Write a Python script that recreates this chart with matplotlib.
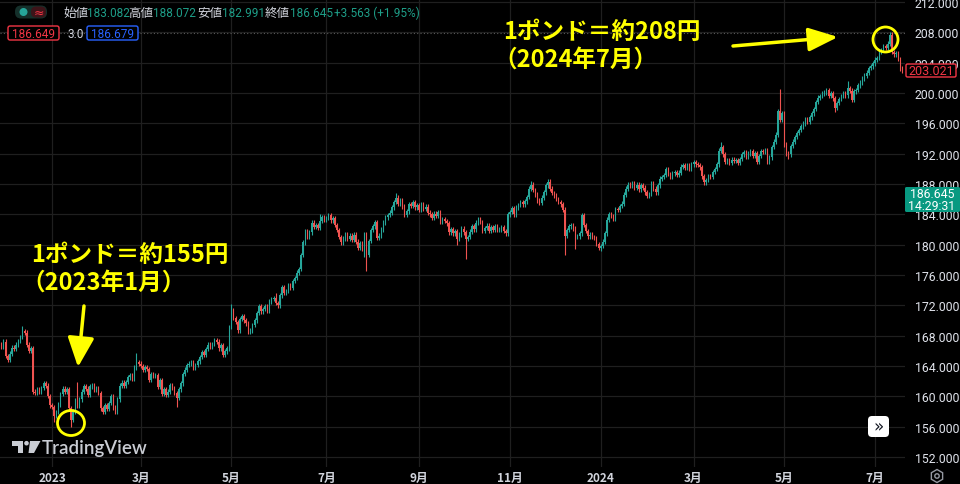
import numpy as np
import pandas as pd
import matplotlib
matplotlib.use("Agg")
import matplotlib.pyplot as plt
from matplotlib.patches import Ellipse, FancyBboxPatch, RegularPolygon, Circle, Polygon

plt.rcParams['font.family'] = ['Noto Sans CJK JP', 'DejaVu Sans']

# ---------------- data (GBP/JPY daily closes) ----------------
close_2022_11 = [166.5, 167.2]
close_2022_12 = [165.3, 164.8, 165.6, 166.4, 166.2, 166.8, 167.3, 167.8, 168.6, 168.4, 166.8,
                 166.0, 166.3, 160.6, 160.4, 160.9, 160.6, 161.1, 161.7, 161.4, 160.0, 158.8]
close_2023_01 = [158.6, 157.4, 157.9, 158.9, 160.3, 161.0, 160.6, 160.9, 158.4, 156.9, 158.0,
                 159.4, 158.7, 159.6, 160.6, 161.3, 161.0, 160.2, 161.3, 161.4, 160.9, 161.0]
close_2023_02 = [160.4, 158.4, 157.9, 158.8, 158.3, 159.1, 160.0, 158.5, 158.0, 159.6, 161.4,
                 161.8, 161.4, 161.9, 162.5, 162.8, 162.3, 163.8, 164.5, 164.3]
close_2023_03 = [164.0, 163.5, 163.8, 163.6, 162.2, 162.9, 162.7, 162.8, 161.2, 162.1, 160.3,
                 160.9, 160.2, 160.6, 161.5, 161.1, 160.4, 159.8, 160.9, 161.7, 162.9, 163.5, 164.1]
close_2023_04 = [164.3, 164.5, 163.8, 164.1, 164.6, 165.2, 165.8, 165.5, 166.2, 166.8, 166.5,
                 166.9, 167.4, 167.2, 166.3, 166.7, 165.5, 165.9, 166.3, 169.1]
close_2023_05 = [171.3, 170.3, 169.8, 168.7, 170.2, 170.6, 170.0, 169.6, 168.5, 168.7, 169.4,
                 170.0, 171.0, 171.9, 171.2, 171.5, 171.9, 171.3, 172.5, 172.8, 172.9, 172.3, 172.0]
close_2023_06 = [173.3, 174.4, 173.6, 173.9, 174.6, 174.3, 175.2, 175.6, 176.3, 176.8, 178.6,
                 180.3, 181.7, 181.0, 181.6, 182.9, 182.3, 182.6, 182.2, 183.1, 183.6, 183.3]
close_2023_07 = [183.5, 183.9, 183.2, 183.5, 182.6, 181.9, 181.0, 180.3, 180.8, 181.4, 180.8,
                 181.2, 180.6, 181.3, 180.4, 179.6, 180.2, 179.4, 181.3, 178.6, 180.5]
close_2023_08 = [181.9, 182.4, 183.0, 180.9, 181.2, 182.0, 182.9, 183.6, 183.9, 184.2, 184.9,
                 185.6, 186.2, 185.4, 185.8, 185.0, 183.9, 184.4, 185.3, 185.1, 185.6, 184.9, 185.2]
close_2023_09 = [184.6, 185.3, 184.7, 185.0, 184.2, 184.0, 183.5, 184.1, 183.8, 184.3, 183.0,
                 183.4, 183.1, 182.8, 181.6, 182.0, 181.5, 181.8, 180.8, 181.3, 182.1]
close_2023_10 = [181.6, 180.8, 181.0, 181.7, 182.4, 182.0, 182.9, 183.4, 183.0, 181.8, 182.2,
                 182.5, 181.8, 182.3, 181.9, 182.4, 181.9, 182.0, 182.3, 181.8, 181.5, 184.0]
close_2023_11 = [184.3, 184.8, 184.0, 184.9, 185.2, 185.6, 185.3, 185.7, 186.3, 187.4, 187.9,
                 187.2, 186.6, 185.8, 185.5, 186.2, 186.9, 187.8, 188.3, 187.4, 186.8, 186.5]
close_2023_12 = [186.0, 185.6, 185.3, 184.6, 181.2, 181.9, 182.4, 182.6, 182.1, 181.0, 181.1,
                 181.5, 183.9, 182.6, 181.8, 181.1, 181.3, 181.0, 180.9, 180.1, 179.6]
close_2024_01 = [179.8, 180.4, 181.5, 183.3, 184.0, 183.8, 183.4, 184.7, 184.6, 185.1, 185.4,
                 186.6, 187.4, 187.9, 187.8, 188.1, 187.5, 187.9, 187.3, 187.8, 187.5, 186.9, 186.4]
close_2024_02 = [186.7, 188.1, 187.4, 186.9, 187.8, 188.7, 188.9, 189.2, 190.0, 189.3, 188.9,
                 189.4, 189.6, 189.2, 189.5, 190.3, 190.5, 190.1, 190.4, 190.0, 190.6]
close_2024_03 = [190.9, 190.6, 190.5, 190.2, 189.0, 188.2, 188.5, 189.0, 188.9, 189.6, 190.0,
                 190.6, 192.4, 192.9, 191.9, 190.9, 191.1, 190.8, 191.2, 191.0, 191.1]
close_2024_04 = [190.8, 191.3, 191.9, 192.2, 191.6, 192.0, 192.3, 191.7, 192.1, 190.9, 191.7,
                 192.3, 192.2, 192.4, 190.9, 191.5, 192.9, 193.6, 194.5, 197.6, 196.5, 197.3]
close_2024_05 = [193.2, 192.0, 191.9, 193.0, 193.6, 194.2, 194.7, 195.1, 195.6, 196.0, 196.5,
                 196.2, 196.8, 197.3, 197.9, 198.8, 199.4, 199.6, 199.9, 200.1, 200.4, 199.6, 200.0]
close_2024_06 = [199.3, 198.0, 198.7, 199.2, 199.6, 199.9, 199.7, 200.6, 200.3, 199.1, 200.2,
                 200.4, 201.0, 201.4, 201.9, 202.3, 202.7, 203.3, 203.5, 203.9]
close_2024_07 = [204.4, 204.6, 205.5, 205.7, 206.2, 206.0, 206.5, 207.6, 205.4, 205.1, 205.3,
                 204.5, 203.2, 203.0]

first_open = 166.9
start_date = '2022-11-29'

spike_high = {'2022-12-13': 169.2, '2023-01-18': 161.9, '2023-02-27': 165.7, '2023-05-01': 172.1,
              '2023-05-30': 173.6, '2023-06-28': 184.1, '2023-08-17': 186.8, '2023-11-15': 188.4,
              '2023-11-27': 188.7, '2024-03-20': 193.5, '2024-04-29': 200.5, '2024-06-12': 201.6,
              '2024-07-10': 208.1, '2024-07-11': 208.0}
spike_low = {'2023-01-03': 156.6, '2023-01-13': 155.9, '2023-03-24': 158.6, '2023-07-27': 178.3,
             '2023-07-28': 176.5, '2023-09-27': 179.9, '2023-10-03': 178.1, '2023-12-07': 178.6,
             '2023-12-14': 179.4, '2024-01-01': 179.2, '2024-05-03': 191.3, '2024-06-04': 197.5,
             '2024-03-08': 187.8}

y_ticks = list(range(152, 213, 4))
tick_months = ['2023-01', '2023-03', '2023-05', '2023-07', '2023-09', '2023-11',
               '2024-01', '2024-03', '2024-05', '2024-07']
tick_labels = ['2023', '3月', '5月', '7月', '9月', '11月', '2024', '3月', '5月', '7月']

header_items = [('始値', '183.082'), ('高値', '188.072'), ('安値', '182.991'), ('終値', '186.645')]
header_change = '+3.563 (+1.95%)'
last_price = '203.021'
cur_price, countdown = '186.645', '14:29:31'
bid, spread, ask = '186.649', '3.0', '186.679'
note1 = ['1ポンド＝約155円', '（2023年1月）']
note2 = ['1ポンド＝約208円', '（2024年7月）']

# ---------------- build OHLC ----------------
close = np.array(close_2022_11 + close_2022_12 + close_2023_01 + close_2023_02 + close_2023_03 +
                 close_2023_04 + close_2023_05 + close_2023_06 + close_2023_07 + close_2023_08 +
                 close_2023_09 + close_2023_10 + close_2023_11 + close_2023_12 + close_2024_01 +
                 close_2024_02 + close_2024_03 + close_2024_04 + close_2024_05 + close_2024_06 +
                 close_2024_07)
open_ = np.concatenate([[first_open], close[:-1]])
dates = pd.bdate_range(start_date, periods=len(close))
wick = 0.3
high = np.maximum(open_, close) + wick
low = np.minimum(open_, close) - wick
for d, v in spike_high.items():
    high[dates.get_loc(pd.Timestamp(d))] = v
for d, v in spike_low.items():
    low[dates.get_loc(pd.Timestamp(d))] = v
k = np.arange(len(close))

UP, DOWN = '#26a69a', '#ef5350'
BG = '#000000'
GRID = '#1f1f1f'
TXT = '#d1d4dc'
YEL = '#ffff00'
NUM = ['Roboto', 'DejaVu Sans']

W, H = 960, 485
fig = plt.figure(figsize=(W / 100, H / 100), dpi=100, facecolor=BG)
ax = fig.add_axes([0, 17 / H, 905 / W, 468 / H], facecolor=BG)

# x mapping: first bar of 2023 at x=52 px, first bar of Jul 2024 at x=875 px
tick_pos = [int(np.argmax(dates >= pd.Timestamp(m + '-01'))) for m in tick_months]
k0, k1 = tick_pos[0], tick_pos[-1]
ppd = (875 - 52) / (k1 - k0)
ax.set_xlim(k0 - 52 / ppd, k0 + (905 - 52) / ppd)
ax.set_ylim(150.66, 212.4)

for yv in y_ticks:
    ax.axhline(yv, color=GRID, lw=0.9, zorder=0)
for xp in tick_pos:
    ax.axvline(xp, color=GRID, lw=0.9, zorder=0)
ax.axhline(207.95, color='#5a5a5a', lw=0.8, ls=(0, (1, 2)), zorder=1)

up = close >= open_
cols = np.where(up, UP, DOWN)
ax.vlines(k, low, high, colors=cols, lw=0.8, zorder=2)
body_b = np.minimum(open_, close)
body_h = np.maximum(np.abs(close - open_), 0.08)
ax.bar(k, body_h, bottom=body_b, width=0.65, color=cols, linewidth=0, zorder=3)

ax.yaxis.tick_right()
ax.set_yticks(y_ticks)
ax.set_yticklabels([f'{v:.3f}' for v in y_ticks], family=NUM)
ax.tick_params(axis='y', length=0, pad=7, labelcolor='#e0e3eb', labelsize=8.8)
ax.set_xticks(tick_pos)
ax.set_xticklabels(tick_labels)
ax.tick_params(axis='x', length=0, pad=3, labelcolor=TXT, labelsize=8.5)
for lab in ax.get_xticklabels():
    lab.set_fontweight('bold')
for s in ax.spines.values():
    s.set_visible(False)

# ---------------- overlay in pixel coordinates ----------------
ov = fig.add_axes([0, 0, 1, 1], facecolor='none', zorder=10)
ov.set_xlim(0, W)
ov.set_ylim(H, 0)
ov.axis('off')

# header pill
ov.add_patch(FancyBboxPatch((15, 6.5), 32, 13, boxstyle='round,pad=0,rounding_size=6',
                            fc='#15302b', ec='none'))
ov.add_patch(FancyBboxPatch((31, 7.5), 15, 11, boxstyle='round,pad=0,rounding_size=5',
                            fc='#3d1419', ec='none'))
ov.add_patch(Circle((23.5, 13), 3.3, color=UP))
ov.text(38.5, 13, '≈', color='#f23645', fontsize=9, ha='center', va='center',
        family=['DejaVu Sans'])
hx = [(63, 87), (128, 153), (197, 222), (265, 290)]
for (lbl, val), (xl, xv) in zip(header_items, hx):
    ov.text(xl, 13.5, lbl, color=TXT, fontsize=9, ha='left', va='center')
    ov.text(xv, 13.5, val, color='#1e9e88', fontsize=8.5, ha='left', va='center', family=NUM)
ov.text(334, 13.5, header_change, color='#1e9e88', fontsize=8.5, ha='left', va='center',
        family=NUM)

ov.add_patch(FancyBboxPatch((8, 27), 51, 14, boxstyle='round,pad=0,rounding_size=2',
                            fc=BG, ec='#f23645', lw=1))
ov.text(33.5, 34.5, bid, color='#f23645', fontsize=8.5, ha='center', va='center', family=NUM)
ov.text(67, 34.5, spread, color=TXT, fontsize=8.5, ha='left', va='center', family=NUM)
ov.add_patch(FancyBboxPatch((87, 27), 51, 14, boxstyle='round,pad=0,rounding_size=2',
                            fc=BG, ec='#2962ff', lw=1))
ov.text(112.5, 34.5, ask, color='#2962ff', fontsize=8.5, ha='center', va='center', family=NUM)

# right axis price labels
ov.add_patch(FancyBboxPatch((906, 65), 50, 13, boxstyle='round,pad=0,rounding_size=1.5',
                            fc=BG, ec='#f23645', lw=1))
ov.text(931, 71.5, last_price, color='#f23645', fontsize=9, ha='center', va='center',
        family=NUM)
ov.add_patch(FancyBboxPatch((905, 188), 55, 25, boxstyle='round,pad=0,rounding_size=1.5',
                            fc='#089981', ec='none'))
ov.text(932, 195, cur_price, color='white', fontsize=8.8, ha='center', va='center', family=NUM)
ov.text(932, 207, countdown, color='white', fontsize=8.8, ha='center', va='center', family=NUM)

# scroll button and settings icon
ov.add_patch(FancyBboxPatch((868, 417), 21, 21, boxstyle='round,pad=0,rounding_size=4',
                            fc='white', ec='none'))
ov.text(878.5, 427, '»', color='#131722', fontsize=12, ha='center', va='center',
        family=['DejaVu Sans'])
ov.add_patch(RegularPolygon((937, 477), 6, radius=6.5, orientation=0, fill=False,
                            ec='#9598a1', lw=1))
ov.add_patch(Circle((937, 477), 2.2, fill=False, ec='#9598a1', lw=1))

# TradingView watermark
LOGO = '#c9ccd3'
ov.add_patch(Polygon([(12, 442), (23, 442), (23, 454), (18, 454), (18, 446.5), (12, 446.5)],
                     closed=True, fc=LOGO, ec='none'))
ov.add_patch(Circle((26.5, 444.2), 2.3, fc=LOGO, ec='none'))
ov.add_patch(Polygon([(30, 442), (40.5, 442), (34, 454), (28.5, 454)], closed=True,
                     fc=LOGO, ec='none'))
ov.text(42, 448.5, 'TradingView', color=LOGO, fontsize=13.5, ha='left', va='center',
        family=['Lato', 'DejaVu Sans'], fontweight='semibold')

# annotations
ov.text(31, 255, note1[0], color=YEL, fontsize=17, fontweight='bold', ha='left', va='center')
ov.text(21, 283, note1[1], color=YEL, fontsize=17, fontweight='bold', ha='left', va='center')
ov.text(503, 32, note2[0], color=YEL, fontsize=17, fontweight='bold', ha='left', va='center')
ov.text(493, 60, note2[1], color=YEL, fontsize=17, fontweight='bold', ha='left', va='center')
ov.annotate('', xy=(78, 368), xytext=(84, 307),
            arrowprops=dict(arrowstyle='-|>,head_length=1.0,head_width=0.45', color=YEL,
                            lw=2.5, shrinkA=0, shrinkB=0, mutation_scale=18))
ov.annotate('', xy=(838, 38), xytext=(733, 47),
            arrowprops=dict(arrowstyle='-|>,head_length=1.0,head_width=0.4', color=YEL,
                            lw=2.5, shrinkA=0, shrinkB=0, mutation_scale=18))
ov.add_patch(Ellipse((71, 424), 27, 25, fill=False, ec=YEL, lw=2))
ov.add_patch(Ellipse((885.5, 40.5), 25, 25, fill=False, ec=YEL, lw=2))

fig.savefig('out.png', dpi=100, facecolor=BG)
